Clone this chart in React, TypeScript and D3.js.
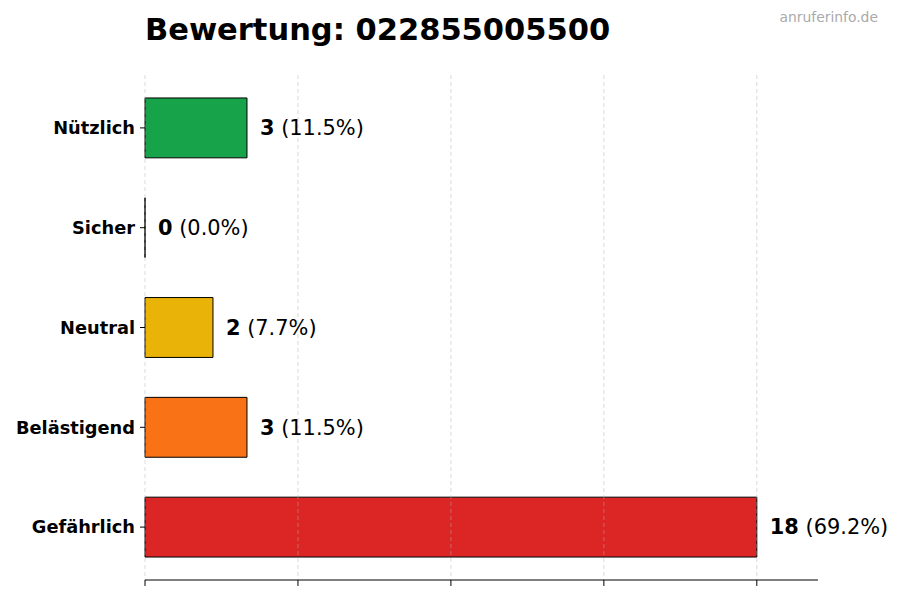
import React from "react";
import * as d3 from "d3";

const categories = ["Nützlich", "Sicher", "Neutral", "Belästigend", "Gefährlich"];
const counts = [3, 0, 2, 3, 18];
const percents = ["11.5%", "0.0%", "7.7%", "11.5%", "69.2%"];
const colors = ["#16a34a", "#16a34a", "#eab308", "#f97316", "#dc2626"];
const xTicks = [0, 4.5, 9, 13.5, 18];
const title = "Bewertung: 022855005500";
const watermark = "anruferinfo.de";

const W = 900;
const H = 600;
const left = 145;
const right = 818;
const top = 78;
const bottom = 577;
const axisY = 580;
const font = "'DejaVu Sans', sans-serif";

export default function App() {
  const x = d3.scaleLinear().domain([0, 19.8]).range([left, right]);
  const y = d3
    .scaleBand<string>()
    .domain(categories)
    .range([top, bottom])
    .paddingInner(0.4)
    .paddingOuter(0.2);
  const bw = y.bandwidth();

  const barPath = (c: string, v: number) => {
    const p = d3.path();
    p.rect(x(0), y(c)!, Math.max(0, x(v) - x(0)), bw);
    return p.toString();
  };

  return (
    <svg
      width={W}
      height={H}
      style={{ position: "absolute", left: 0, top: 0, background: "#fff" }}
      fontFamily={font}
    >
      <text x={left} y={40} fontSize={30.5} fontWeight="bold" fill="#000">
        {title}
      </text>
      <text x={878} y={22} fontSize={13.9} fill="#aaaaaa" textAnchor="end">
        {watermark}
      </text>

      {categories.map((c, i) => (
        <path
          key={c}
          d={barPath(c, counts[i])}
          fill={colors[i]}
          stroke="#000"
          strokeWidth={1}
        />
      ))}

      {xTicks.map((t) => (
        <line
          key={"g" + t}
          x1={x(t)}
          x2={x(t)}
          y1={75}
          y2={axisY}
          stroke="#b0b0b0"
          strokeOpacity={0.6}
          strokeDasharray="4,3"
          strokeWidth={0.8}
        />
      ))}

      <line x1={left} x2={right} y1={axisY} y2={axisY} stroke="#000" strokeWidth={1} />
      {xTicks.map((t) => (
        <line key={"t" + t} x1={x(t)} x2={x(t)} y1={axisY} y2={axisY + 6} stroke="#000" strokeWidth={1} />
      ))}

      {categories.map((c) => {
        const cy = y(c)! + bw / 2;
        return (
          <g key={"l" + c}>
            <line x1={left - 5} x2={left} y1={cy} y2={cy} stroke="#000" strokeWidth={1} />
            <text x={left - 10} y={cy} dy="0.35em" textAnchor="end" fontSize={17.8} fontWeight="bold" fill="#000">
              {c}
            </text>
          </g>
        );
      })}

      {categories.map((c, i) => {
        const cy = y(c)! + bw / 2;
        return (
          <text key={"v" + c} x={x(counts[i]) + 13} y={cy} dy="0.35em" fontSize={20.9} fill="#000">
            <tspan fontWeight="bold">{counts[i]}</tspan>
            <tspan>{" (" + percents[i] + ")"}</tspan>
          </text>
        );
      })}
    </svg>
  );
}
